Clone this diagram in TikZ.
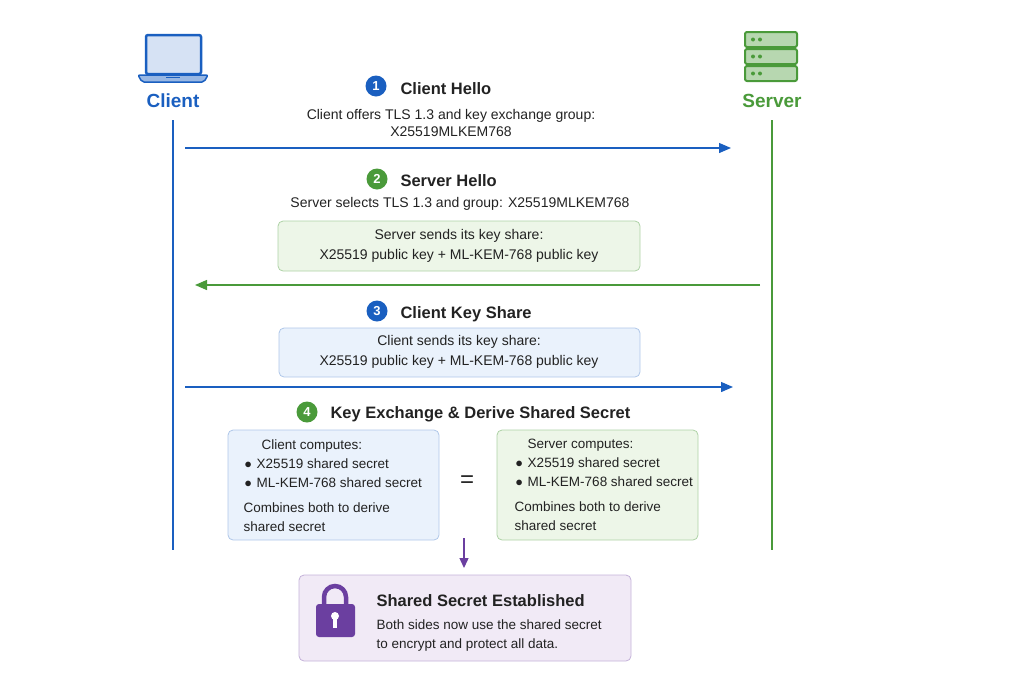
\documentclass[tikz,border=0pt]{standalone}
\usepackage{fontspec}
\setmainfont{Liberation Sans}
\usetikzlibrary{arrows.meta}
\definecolor{cblue}{HTML}{1A5FC0}
\definecolor{cgreen}{HTML}{4A9A3A}
\definecolor{cpurp}{HTML}{6B3FA0}
\definecolor{bluefill}{HTML}{EAF2FC}
\definecolor{greenfill}{HTML}{EDF6E8}
\definecolor{purpfill}{HTML}{F1EAF6}
\definecolor{txt}{HTML}{222222}
\begin{document}
\begin{tikzpicture}[x=1pt,y=-1pt,
  life/.style={line width=1.5pt},
  msg/.style={line width=1.3pt,-{Triangle[length=12pt,width=10pt]}},
  num/.style={circle,minimum size=21pt,inner sep=0pt,text=white,font=\bfseries\fontsize{13}{13}\selectfont},
  steptitle/.style={anchor=west,font=\bfseries\fontsize{16.5}{16.5}\selectfont,text=txt},
  body/.style={font=\fontsize{14}{17}\selectfont,text=txt,align=center},
  box/.style={rounded corners=5pt,line width=0.8pt},
  boxtxt/.style={font=\fontsize{14}{20}\selectfont,text=txt,align=center}]
\useasboundingbox (0,0) rectangle (1024,683);
% laptop
\filldraw[cblue,fill=cblue!18,line width=2.5pt,rounded corners=2pt] (146,35) rectangle (201,74);
\filldraw[cblue,fill=cblue!45,line width=1.5pt,rounded corners=2pt] (138,75) -- (208,75) -- (204,82) -- (142,82) -- cycle;
\draw[cblue,line width=1pt] (166,77.5) -- (180,77.5);
\node[font=\bfseries\fontsize{19}{19}\selectfont,text=cblue] (client) at (173,101) {Client};
% server
\foreach \y in {32,49,66}{
 \filldraw[cgreen,fill=cgreen!40,line width=2pt,rounded corners=2pt] (745,\y) rectangle (797,\y+15);
 \fill[cgreen] (753,\y+7.5) circle (2pt) (760,\y+7.5) circle (2pt);}
\node[font=\bfseries\fontsize{19}{19}\selectfont,text=cgreen] (server) at (772,101) {Server};
% lifelines
\coordinate (cl1) at (173,120); \coordinate (cl2) at (173,550);
\coordinate (sl1) at (772,120); \coordinate (sl2) at (772,550);
\draw[life,cblue] (cl1) -- (cl2);
\draw[life,cgreen] (sl1) -- (sl2);
% step 1
\node[num,fill=cblue] (n1) at (376,86) {1};
\node[steptitle] (s1) at (397,89) {Client Hello};
\node[body] (t1) at (451,123) {Client offers TLS 1.3 and key exchange group:\\X25519MLKEM768};
\coordinate (a1s) at (185,148); \coordinate (a1e) at (731,148);
\draw[msg,cblue] (a1s) -- (a1e);
% step 2
\node[num,fill=cgreen] (n2) at (377,179) {2};
\node[steptitle] (s2) at (397,181) {Server Hello};
\node[body] (t2) at (460,204) {Server selects TLS 1.3 and group: X25519MLKEM768};
\draw[box,draw=cgreen!45,fill=greenfill] (278,221) rectangle (640,271);
\node[boxtxt] (b2) at (459,246) {Server sends its key share:\\X25519 public key + ML-KEM-768 public key};
\coordinate (a2s) at (760,285); \coordinate (a2e) at (195,285);
\draw[msg,cgreen] (a2s) -- (a2e);
% step 3
\node[num,fill=cblue] (n3) at (377,311) {3};
\node[steptitle] (s3) at (397,314) {Client Key Share};
\draw[box,draw=cblue!35,fill=bluefill] (279,328) rectangle (640,377);
\node[boxtxt] (b3) at (459,352) {Client sends its key share:\\X25519 public key + ML-KEM-768 public key};
\coordinate (a3s) at (185,387); \coordinate (a3e) at (733,387);
\draw[msg,cblue] (a3s) -- (a3e);
% step 4
\node[num,fill=cgreen] (n4) at (307,412) {4};
\node[steptitle] (s4) at (327,414) {Key Exchange \& Derive Shared Secret};
\draw[box,draw=cblue!35,fill=bluefill] (228,430) rectangle (439,540);
\draw[box,draw=cgreen!45,fill=greenfill] (497,430) rectangle (698,540);
\node[anchor=north west,font=\fontsize{13.5}{19}\selectfont,text=txt,align=left] (lc) at (240,436)
 {\hspace*{18pt}Client computes:\\ \hspace*{1pt}$\bullet$\hspace{5pt}X25519 shared secret\\ \hspace*{1pt}$\bullet$\hspace{5pt}ML-KEM-768 shared secret\\[6pt]Combines both to derive\\shared secret};
\node[anchor=north west,font=\fontsize{13.5}{19}\selectfont,text=txt,align=left] (rc) at (511,436)
 {\hspace*{13pt}Server computes:\\ \hspace*{1pt}$\bullet$\hspace{5pt}X25519 shared secret\\ \hspace*{1pt}$\bullet$\hspace{5pt}ML-KEM-768 shared secret\\[6pt]Combines both to derive\\shared secret};
\node[font=\fontsize{24}{24}\selectfont,text=txt] (eq) at (467,482) {=};
% final
\coordinate (pa) at (464,538);
\draw[box,draw=cpurp!40,fill=purpfill] (299,575) rectangle (631,661);
\node (fin) at (464,568) {};
\draw[cpurp,line width=1.3pt,-{Triangle[length=10pt,width=9pt]}] (pa) -- (fin.center);
\draw[cpurp,line width=4.5pt] (324,606) -- (324,597) arc (180:360:11) -- (346,606);
\fill[cpurp,rounded corners=3pt] (316,604) rectangle (355,637);
\fill[white] (335,616) circle (4pt);
\fill[white] (333,616) rectangle (337,628);
\node[anchor=west,font=\bfseries\fontsize{16.5}{16.5}\selectfont,text=txt] (ft) at (373,601) {Shared Secret Established};
\node[anchor=north west,font=\fontsize{13.5}{19}\selectfont,text=txt,align=left] (fb) at (373,616) {Both sides now use the shared secret\\to encrypt and protect all data.};
\end{tikzpicture}
\end{document}
